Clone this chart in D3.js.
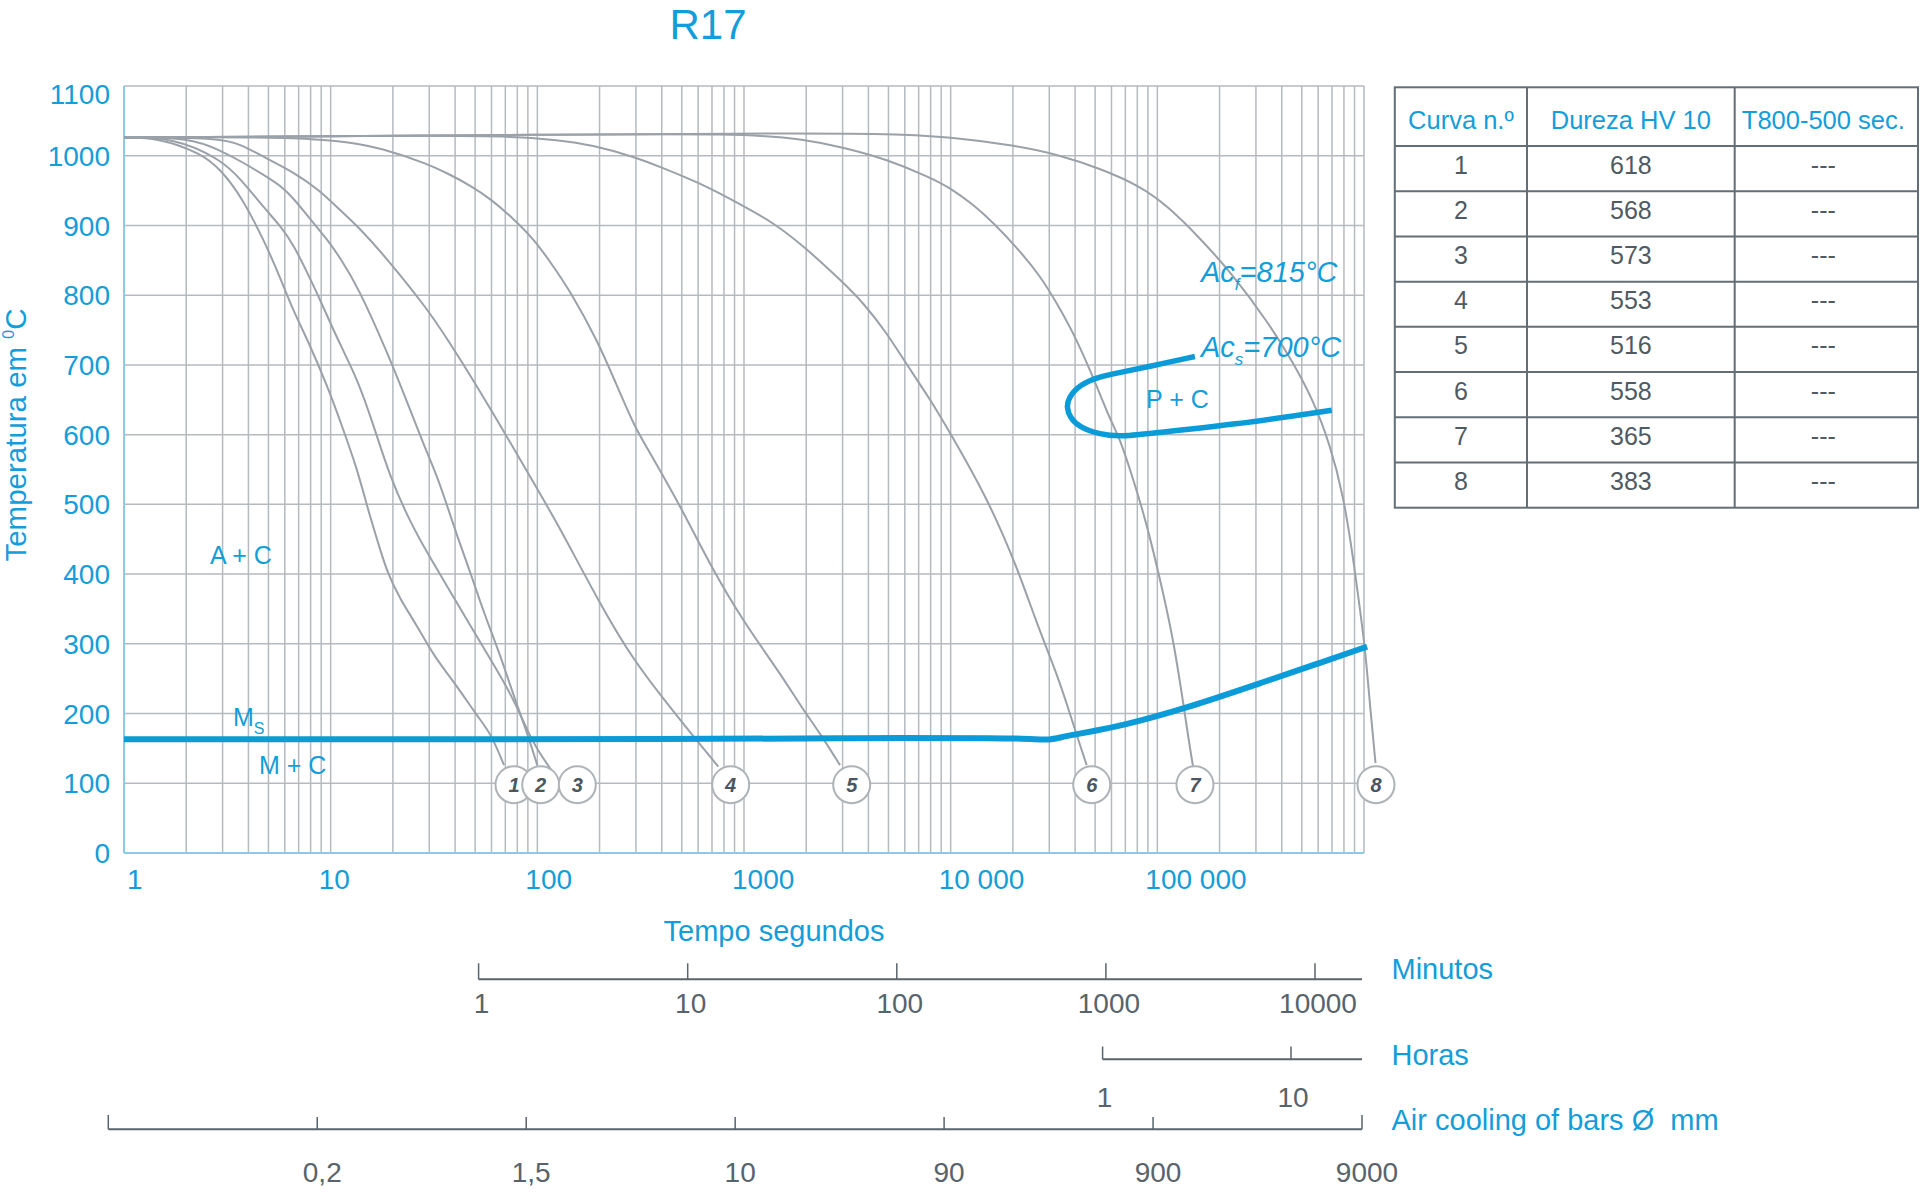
<!DOCTYPE html>
<html><head><meta charset="utf-8">
<script src="https://cdn.jsdelivr.net/npm/d3@7"></script>
<style>
body{margin:0;background:#fff;}
svg{display:block;font-family:"Liberation Sans",Arial,Helvetica,sans-serif;}
</style></head><body>
<svg id="chart" width="1920" height="1194"></svg>
<script>
// ---------- DATA ----------
const titleText = "R17";
const yTicks = [0,100,200,300,400,500,600,700,800,900,1000,1100];
const xTickValues = [1,10,100,1000,10000,100000];
const xTickLabels = ["1","10","100","1000","10 000","100 000"];

// cooling curves: [time s, temperature °C]
const curve1 = [[1,1026],[1.45,1026],[2.35,1004],[2.94,980],[3.69,942],[4.83,875],[5.73,823],[6.65,775],[7.71,737],[9.63,670],[11.2,617],[13.5,549],[15.0,497],[16.8,449],[18.8,401],[21.8,363],[26.3,325],[31.6,282],[41.0,239],[51.2,196],[59.5,172],[69.0,126]];
const curve2 = [[1,1026],[2.1,1026],[2.94,1007],[3.69,992],[4.83,971],[5.73,957],[6.65,938],[7.71,914],[9.63,880],[11.2,852],[13.5,813],[18.8,718],[23.5,646],[28.3,584],[32.8,540],[36.7,497],[41.0,454],[47.6,401],[55.2,344],[66.5,282],[77.1,224],[89.4,172],[99.9,126]];
const curve3 = [[1,1026],[1.75,1026],[2.94,995],[3.69,966],[4.83,923],[5.73,899],[6.65,871],[7.71,832],[8.71,799],[9.63,770],[11.2,727],[13.5,679],[16.2,612],[19.3,540],[24.4,473],[29.4,430],[36.7,382],[47.6,325],[59.5,277],[74.3,229],[89.4,176],[99.9,148],[120,114]];
const curve4 = [[1,1026],[2.9,1026],[3.69,1016],[4.83,997],[6.65,976],[8.71,952],[11.2,921],[13.5,899],[18.8,852],[29.4,780],[36.7,737],[47.6,684],[59.5,636],[72.9,592],[96.3,530],[125,473],[201,357],[291,277],[423,215],[569,167],[751,124]];
const curve5 = [[1,1026],[9.63,1028],[18.8,1009],[29.4,988],[36.7,975],[47.6,957],[59.5,938],[77.1,909],[96.3,880],[116,847],[145,805],[195,735],[235,680],[294,613],[326,590],[490,499],[685,413],[992,332],[1494,258],[1936,205],[2332,172],[2914,126]];
const curve6 = [[1,1026],[9.63,1028],[96.3,1030],[195,1014],[303,997],[385,985],[613,961],[992,928],[1386,904],[1936,871],[3023,818],[3777,789],[4902,746],[5898,708],[7943,651],[9924,603],[14940,511],[21240,406],[26080,329],[32580,258],[37780,200],[41450,162],[45520,126]];
const curve7 = [[1,1026],[9.63,1028],[96.3,1030],[992,1032],[1936,1024],[3023,1012],[4902,995],[7943,969],[9924,954],[12870,930],[16080,904],[21240,866],[27050,828],[32580,789],[40720,737],[50890,670],[59020,622],[66000,594],[76490,536],[88840,472],[103000,393],[119500,307],[133600,214],[143900,150],[149300,122]];
const curve8 = [[1,1026],[9.63,1028],[96.3,1030],[992,1032],[4902,1032],[9924,1027],[21240,1014],[32580,1002],[52790,982],[83180,956],[111000,929],[160900,882],[232300,829],[338100,764],[453300,704],[566600,650],[684600,586],[793700,514],[887500,422],[956300,349],[1014600,291],[1074000,205],[1137000,129]];
const curves = [curve1,curve2,curve3,curve4,curve5,curve6,curve7,curve8];

// circle markers at curve ends
const circleNumbers = [1,2,3,4,5,6,7,8];
const circleTimes = [77.1,103.8,156.1,862,3320,48130,152100,1143000];
const circleTemp = 98;

// Ms line and pearlite nose (Ac)
const msLine = [[1,163],[1000,163],[3000,165],[20000,165],[26000,163],[30000,162],[34000,166],[41000,170.5],[49000,175],[66000,182],[133000,206],[340000,247],[590000,271],[1035000,296]];
const acNose = [[152000,712],[92100,698],[65950,689],[52800,683.5],[42270,672],[37100,653],[36400,639],[37800,624],[42270,610],[52800,600.5],[65950,597],[92100,602],[232000,614],[698000,635]];

// table
const tableHeader = ["Curva n.º","Dureza HV 10","T800-500 sec."];
const tableCurve = ["1","2","3","4","5","6","7","8"];
const tableHardness = ["618","568","573","553","516","558","365","383"];
const tableT85 = ["---","---","---","---","---","---","---","---"];

// secondary scales
const minuteTicks = [1,10,100,1000,10000];
const hourTicks = [1,10];
const barLabels = ["","0,2","1,5","10","90","900","9000"];

// ---------- DRAW ----------
const BLUE="#139dd9", LINE_BLUE="#0a9bd8", GRID="#b5babf", CURVE="#9aa1a8", DARK="#5a646d", AXIS="#8ccbe7";
const svg = d3.select("#chart");
svg.append("rect").attr("width",1920).attr("height",1194).attr("fill","#fff");

const x = d3.scaleLog().domain([1,1e6]).range([124,1364]);
const y = d3.scaleLinear().domain([0,1100]).range([853,86]);

// grid
const gridX = [];
for (let k=0;k<6;k++) for (let m=1;m<=9;m++){ const v=m*Math.pow(10,k); if(v>1) gridX.push(v); }
gridX.push(1e6);
const g = svg.append("g");
g.selectAll("line.gx").data(gridX).join("line").attr("class","gx")
  .attr("x1",d=>x(d)).attr("x2",d=>x(d)).attr("y1",y(1100)).attr("y2",y(0))
  .attr("stroke",GRID).attr("stroke-width",1.5);
g.selectAll("line.gy").data(yTicks.filter(v=>v>0)).join("line").attr("class","gy")
  .attr("x1",x(1)).attr("x2",x(1e6)).attr("y1",d=>y(d)).attr("y2",d=>y(d))
  .attr("stroke",GRID).attr("stroke-width",1.5);
// axes lines
svg.append("line").attr("x1",x(1)).attr("x2",x(1)).attr("y1",y(1100)).attr("y2",y(0)).attr("stroke",AXIS).attr("stroke-width",2);
svg.append("line").attr("x1",x(1)).attr("x2",x(1e6)).attr("y1",y(0)).attr("y2",y(0)).attr("stroke",AXIS).attr("stroke-width",2);

// y tick labels
svg.append("g").selectAll("text").data(yTicks).join("text")
  .attr("x",110).attr("y",d=>y(d)+(d===1100?8:0)).attr("dy","0.36em")
  .attr("text-anchor","end").attr("font-size",28).attr("fill",BLUE).text(d=>d);
// x tick labels
svg.append("g").selectAll("text").data(xTickValues).join("text")
  .attr("x",d=>Math.max(x(d)-12,127)).attr("y",889)
  .attr("text-anchor","start").attr("font-size",28).attr("fill",BLUE)
  .text((d,i)=>xTickLabels[i]);

// title and axis titles
svg.append("text").attr("x",708).attr("y",39).attr("text-anchor","middle").attr("font-size",42).attr("fill",BLUE).text(titleText);
svg.append("text").attr("x",774).attr("y",941).attr("text-anchor","middle").attr("font-size",29).attr("fill",BLUE).text("Tempo segundos");
const yt = svg.append("text").attr("transform","translate(26,435) rotate(-90)").attr("text-anchor","middle").attr("font-size",29.5).attr("fill",BLUE);
yt.append("tspan").text("Temperatura em ");
yt.append("tspan").attr("font-size",16).attr("dy",-12).text("0");
yt.append("tspan").attr("dy",12).text("C");

// cooling curves
const line = d3.line().x(d=>x(d[0])).y(d=>y(d[1])).curve(d3.curveBasis);
svg.append("g").selectAll("path").data(curves).join("path")
  .attr("d",line).attr("fill","none").attr("stroke",CURVE).attr("stroke-width",2);

// Ms line and nose
svg.append("path").datum(msLine).attr("d",line).attr("fill","none").attr("stroke",LINE_BLUE).attr("stroke-width",6);
svg.append("path").datum(acNose).attr("d",line).attr("fill","none").attr("stroke",LINE_BLUE).attr("stroke-width",5.5);

// circles
const cg = svg.append("g").selectAll("g").data(circleNumbers).join("g")
  .attr("transform",(d,i)=>`translate(${x(circleTimes[i])},${y(circleTemp)})`);
cg.append("circle").attr("r",18.5).attr("fill","#fff").attr("stroke","#aeb3b8").attr("stroke-width",2);
cg.append("text").attr("text-anchor","middle").attr("dy","0.36em").attr("font-size",20)
  .attr("font-style","italic").attr("font-weight","bold").attr("fill","#4b5661").text(d=>d);

// region labels
function lbl(xp,yp,txt,size){ return svg.append("text").attr("x",xp).attr("y",yp).attr("font-size",size).attr("fill",BLUE).text(txt); }
lbl(210,564,"A + C",25);
lbl(259,774,"M + C",25);
lbl(1146,408,"P + C",25);
const ms = svg.append("text").attr("x",233).attr("y",726).attr("font-size",25).attr("fill",BLUE);
ms.append("tspan").text("M");
ms.append("tspan").attr("font-size",16).attr("dy",8).text("S");
const acf = svg.append("text").attr("x",1201).attr("y",282).attr("font-size",29).attr("font-style","italic").attr("fill",BLUE);
acf.append("tspan").text("Ac");
acf.append("tspan").attr("font-size",17).attr("dy",8).text("f");
acf.append("tspan").attr("dy",-8).text("=815°C");
const acs = svg.append("text").attr("x",1201).attr("y",357).attr("font-size",29).attr("font-style","italic").attr("fill",BLUE);
acs.append("tspan").text("Ac");
acs.append("tspan").attr("font-size",17).attr("dy",8).text("s");
acs.append("tspan").attr("dy",-8).text("=700°C");

// ---------- secondary scales ----------
const GRAYTXT="#59636b";
// Minutos
const xMin = d3.scaleLog().domain([1,10000]).range([478.6,1315]);
svg.append("line").attr("x1",xMin(1)).attr("x2",1362).attr("y1",979.3).attr("y2",979.3).attr("stroke",DARK).attr("stroke-width",2);
svg.append("g").selectAll("line").data(minuteTicks).join("line")
  .attr("x1",d=>xMin(d)).attr("x2",d=>xMin(d)).attr("y1",979.3).attr("y2",963.3).attr("stroke",DARK).attr("stroke-width",1.5);
svg.append("g").selectAll("text").data(minuteTicks).join("text")
  .attr("x",d=>xMin(d)+3).attr("y",1013).attr("text-anchor","middle").attr("font-size",28).attr("fill",GRAYTXT).text(d=>d);
lbl(1391.5,979,"Minutos",29);
// Horas
const xHour = d3.scaleLog().domain([1,10]).range([1102.6,1291]);
svg.append("line").attr("x1",xHour(1)).attr("x2",1362).attr("y1",1059.3).attr("y2",1059.3).attr("stroke",DARK).attr("stroke-width",2);
svg.append("g").selectAll("line").data(hourTicks).join("line")
  .attr("x1",d=>xHour(d)).attr("x2",d=>xHour(d)).attr("y1",1059.3).attr("y2",1046.5).attr("stroke",DARK).attr("stroke-width",1.5);
svg.append("g").selectAll("text").data(hourTicks).join("text")
  .attr("x",d=>xHour(d)+2).attr("y",1106.5).attr("text-anchor","middle").attr("font-size",28).attr("fill",GRAYTXT).text(d=>d);
lbl(1391.5,1065,"Horas",29);
// Air cooling of bars
const xBar = d3.scalePoint().domain(barLabels).range([108.3,1362]);
svg.append("line").attr("x1",xBar(barLabels[0])).attr("x2",xBar(barLabels[barLabels.length-1])).attr("y1",1129.3).attr("y2",1129.3).attr("stroke",DARK).attr("stroke-width",2);
svg.append("g").selectAll("line").data(barLabels).join("line")
  .attr("x1",d=>xBar(d)).attr("x2",d=>xBar(d)).attr("y1",1129.3).attr("y2",(d,i)=>(i===0||i===barLabels.length-1)?1115:1117).attr("stroke",DARK).attr("stroke-width",1.5);
svg.append("g").selectAll("text").data(barLabels).join("text")
  .attr("x",d=>xBar(d)+5).attr("y",1181.5).attr("text-anchor","middle").attr("font-size",28).attr("fill",GRAYTXT).text(d=>d);
svg.append("text").attr("x",1391.5).attr("y",1130).attr("font-size",29).attr("fill",BLUE)
  .style("white-space","pre").text("Air cooling of bars Ø\u00A0 mm");

// ---------- table ----------
const colX = [1394.8,1527,1734.7,1918];
const headTop = 87.3, headBottom = 146, tableBottom = 507.7;
const rowBand = d3.scaleBand().domain(tableCurve).range([headBottom,tableBottom]);
const TB = "#636e76";
const tg = svg.append("g");
tg.append("rect").attr("x",colX[0]).attr("y",headTop).attr("width",colX[3]-colX[0]).attr("height",tableBottom-headTop)
  .attr("fill","none").attr("stroke",TB).attr("stroke-width",2);
tg.selectAll("line.c").data(colX.slice(1,3)).join("line").attr("class","c")
  .attr("x1",d=>d).attr("x2",d=>d).attr("y1",headTop).attr("y2",tableBottom).attr("stroke",TB).attr("stroke-width",2);
tg.selectAll("line.r").data(tableCurve).join("line").attr("class","r")
  .attr("x1",colX[0]).attr("x2",colX[3]).attr("y1",d=>rowBand(d)).attr("y2",d=>rowBand(d)).attr("stroke",TB).attr("stroke-width",2);
const colCenter = i => (colX[i]+colX[i+1])/2;
tg.selectAll("text.h").data(tableHeader).join("text").attr("class","h")
  .attr("x",(d,i)=>colCenter(i)-(i===2?3:0)).attr("y",129).attr("text-anchor","middle").attr("font-size",25.5).attr("fill",BLUE).text(d=>d);
const cols = [tableCurve,tableHardness,tableT85];
cols.forEach((arr,ci)=>{
  tg.selectAll("text.d"+ci).data(arr).join("text").attr("class","d"+ci)
    .attr("x",colCenter(ci)-(ci===2?3:0)).attr("y",(d,i)=>rowBand(tableCurve[i])+rowBand.bandwidth()/2+5)
    .attr("text-anchor","middle").attr("font-size",25).attr("fill","#4f5a63").text(d=>d);
});
</script></body></html>
